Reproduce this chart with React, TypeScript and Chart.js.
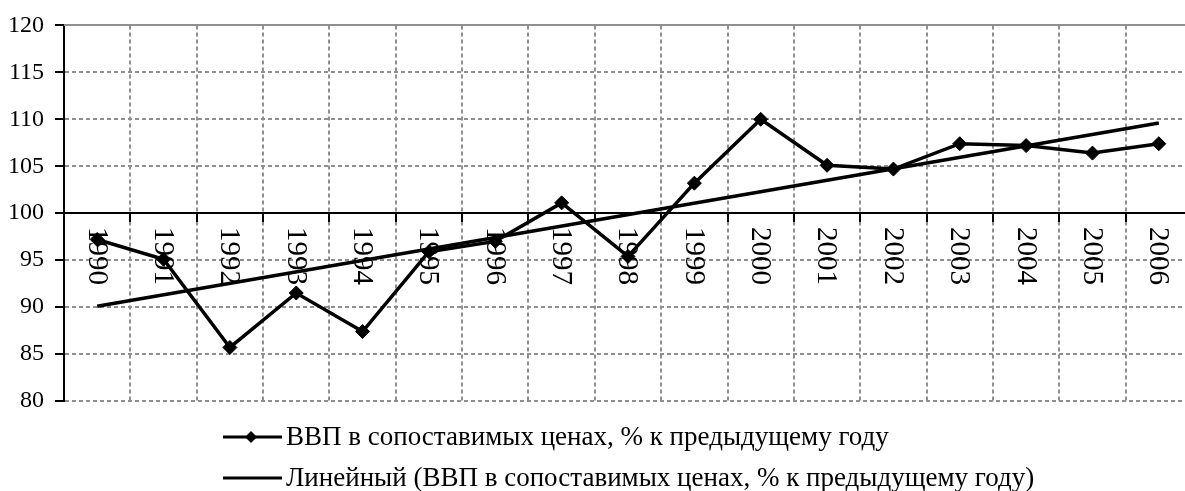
import React, { useEffect, useRef } from "react";
import { Chart, registerables } from "chart.js";

Chart.register(...registerables);

const years = ["1990","1991","1992","1993","1994","1995","1996","1997","1998","1999","2000","2001","2002","2003","2004","2005","2006"];
const gdpValues = [97.2, 95.1, 85.7, 91.5, 87.4, 95.9, 97.0, 101.1, 95.4, 103.2, 110.0, 105.1, 104.7, 107.4, 107.2, 106.4, 107.4];
const trendValues: (number | null)[] = [90.1, null, null, null, null, null, null, null, null, null, null, null, null, null, null, null, 109.6];
const yTicks = { min: 80, max: 120, step: 5 };
const axisCross = 100;
const legendLabels = [
  "ВВП в сопоставимых ценах, % к предыдущему году",
  "Линейный (ВВП в сопоставимых ценах, % к предыдущему году)",
];

const FONT = "'Liberation Serif', 'Times New Roman', serif";
const GRID = "#8f8f8f";

const customDraw = {
  id: "customDraw",
  beforeDatasetsDraw(chart: any) {
    const { ctx, chartArea, scales } = chart;
    const x = scales.x;
    const y = scales.y;
    ctx.save();
    ctx.strokeStyle = GRID;
    ctx.lineWidth = 2;
    ctx.setLineDash([]);
    const yTop = Math.round(y.getPixelForValue(yTicks.max));
    ctx.beginPath();
    ctx.moveTo(chartArea.left, yTop);
    ctx.lineTo(chartArea.right, yTop);
    ctx.stroke();
    const y0 = Math.round(y.getPixelForValue(axisCross));
    ctx.strokeStyle = "#000";
    ctx.lineWidth = 2;
    ctx.beginPath();
    ctx.moveTo(chartArea.left, y0);
    ctx.lineTo(chartArea.right, y0);
    ctx.stroke();
    const n = years.length;
    const step = (chartArea.right - chartArea.left) / n;
    ctx.beginPath();
    for (let i = 1; i <= n; i++) {
      const px = Math.round(x.getPixelForValue(i - 1) + step / 2);
      ctx.moveTo(px, y0);
      ctx.lineTo(px, y0 + 9);
    }
    ctx.stroke();
    ctx.fillStyle = "#000";
    ctx.font = `29px ${FONT}`;
    ctx.textAlign = "left";
    ctx.textBaseline = "middle";
    for (let i = 0; i < n; i++) {
      const px = x.getPixelForValue(i);
      ctx.save();
      ctx.translate(px - 1, y0 + 14);
      ctx.rotate(Math.PI / 2);
      ctx.fillText(years[i], 0, 0);
      ctx.restore();
    }
    ctx.restore();
  },
  afterDraw(chart: any) {
    const { ctx } = chart;
    ctx.save();
    const rows = [437, 478];
    rows.forEach((ry, i) => {
      ctx.strokeStyle = "#000";
      ctx.lineWidth = 3;
      ctx.beginPath();
      ctx.moveTo(223, ry);
      ctx.lineTo(282, ry);
      ctx.stroke();
      if (i === 0) {
        ctx.fillStyle = "#000";
        ctx.beginPath();
        ctx.moveTo(251, ry - 6);
        ctx.lineTo(257, ry);
        ctx.lineTo(251, ry + 6);
        ctx.lineTo(245, ry);
        ctx.closePath();
        ctx.fill();
      }
      ctx.fillStyle = "#000";
      ctx.font = `27px ${FONT}`;
      ctx.textAlign = "left";
      ctx.textBaseline = "middle";
      ctx.fillText(legendLabels[i], 286, ry + 1);
    });
    ctx.restore();
  },
};

export default function App() {
  const ref = useRef<HTMLCanvasElement>(null);
  useEffect(() => {
    if (!ref.current) return;
    const chart = new Chart(ref.current, {
      type: "line",
      data: {
        labels: years,
        datasets: [
          {
            label: legendLabels[0],
            data: gdpValues,
            borderColor: "#000",
            backgroundColor: "#000",
            borderWidth: 3.5,
            pointStyle: "rectRot",
            pointRadius: 7,
            pointBackgroundColor: "#000",
            pointBorderColor: "#000",
            pointBorderWidth: 1,
            tension: 0,
          },
          {
            label: legendLabels[1],
            data: trendValues,
            borderColor: "#000",
            borderWidth: 3.5,
            pointRadius: 0,
            spanGaps: true,
            tension: 0,
          },
        ],
      },
      options: {
        animation: false,
        responsive: false,
        devicePixelRatio: 1,
        layout: { padding: { top: 25, right: 4, bottom: 90, left: 0 } },
        plugins: { legend: { display: false }, tooltip: { enabled: false } },
        scales: {
          x: {
            type: "category",
            offset: true,
            grid: { offset: true, color: GRID, lineWidth: 2, drawTicks: false },
            border: { display: false, dash: [4, 3] },
            ticks: { display: false },
            afterFit: (s: any) => { s.height = 0; },
          },
          y: {
            min: yTicks.min,
            max: yTicks.max,
            ticks: {
              stepSize: yTicks.step,
              color: "#000",
              font: { family: FONT, size: 24 },
              padding: 11,
            },
            grid: { color: GRID, lineWidth: 2, tickColor: "#000", tickLength: 9, tickWidth: 2 },
            border: { display: true, color: "#000", width: 2, dash: [4, 3] },
            afterFit: (s: any) => { s.width = 64; },
          },
        },
      },
      plugins: [customDraw],
    });
    return () => chart.destroy();
  }, []);
  return (
    <div style={{ position: "fixed", left: 0, top: 0, width: 1185, height: 491, overflow: "hidden", background: "#fff" }}>
      <canvas ref={ref} width={1200} height={491} style={{ width: 1200, height: 491, display: "block" }} />
    </div>
  );
}
